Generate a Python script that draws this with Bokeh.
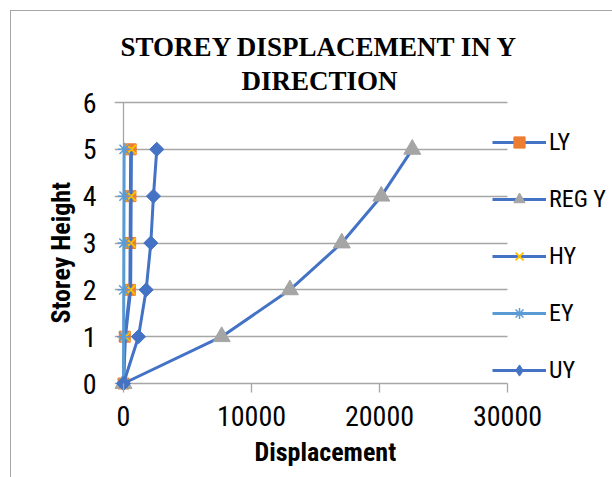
import math
from bokeh.plotting import figure
from bokeh.models import Range1d, Legend, LegendItem, Label, Title, FixedTicker
from bokeh.embed import file_html
from bokeh.resources import INLINE

# ---- data ----
storeys = [0, 1, 2, 3, 4, 5]
ly = [0, 100, 500, 520, 540, 560]
reg_y = [0, 7670, 13000, 17050, 20140, 22560]
hy = [0, 150, 560, 580, 600, 620]
ey = [0, 10, 20, 30, 40, 50]
uy = [0, 1170, 1770, 2135, 2340, 2600]
series_names = ["LY", "REG Y", "HY", "EY", "UY"]
x_ticks = [0, 10000, 20000, 30000]
y_ticks = [0, 1, 2, 3, 4, 5, 6]
title_lines = "STOREY DISPLACEMENT IN Y\nDIRECTION"
x_title = "Displacement"
y_title = "Storey Height"

NARROW = "Liberation Sans Narrow, Arial Narrow, Roboto Condensed, Roboto, sans-serif"
BLUE = "#4472C4"
LBLUE = "#5B9BD5"
ORANGE = "#ED7D31"
GRAY = "#A5A5A5"
YELLOW = "#FFC000"
GRID = "#A6A6A6"

X0, X1 = -703, 38203
Y0, Y1 = -0.192, 8.178

p = figure(width=612, height=477, output_backend="svg", toolbar_location=None,
           x_range=Range1d(X0, X1), y_range=Range1d(Y0, Y1),
           min_border_left=114, min_border_right=0,
           min_border_top=0, min_border_bottom=85)
try:
    p.title = None
except Exception:
    p.title.text = ""
p.outline_line_color = None
p.background_fill_color = None
p.border_fill_color = None
# chart-area border (left and top edges visible in the reference)
p.styles = {
    "background": "linear-gradient(#A6A6A6, #A6A6A6) 10px 10px / 1px calc(100% - 10px) no-repeat, "
                  "linear-gradient(#A6A6A6, #A6A6A6) 10px 10px / calc(100% - 10px) 1px no-repeat, "
                  "#FFFFFF",
}

# axes
p.xaxis.ticker = FixedTicker(ticks=x_ticks)
p.yaxis.ticker = FixedTicker(ticks=y_ticks)
for ax in (p.xaxis, p.yaxis):
    ax.axis_line_color = None
    ax.minor_tick_line_color = None
    ax.major_label_text_font = NARROW
    ax.major_label_text_font_size = "28px"
    ax.major_label_text_color = "black"
p.xaxis.major_tick_line_color = GRID
p.xaxis.major_tick_line_width = 1.3
p.xaxis.major_tick_in = 9
p.xaxis.major_tick_out = 0
p.xaxis.major_label_standoff = 13
p.yaxis.major_tick_line_color = None
p.yaxis.major_label_standoff = 12

p.xgrid.grid_line_color = None
p.ygrid.ticker = FixedTicker(ticks=y_ticks)
p.ygrid.grid_line_color = GRID
p.ygrid.grid_line_width = 1.3
try:
    p.ygrid.cross_bounds = (X0, x_ticks[-1])
except Exception:
    p.ygrid.grid_line_color = None
    p.segment(x0=[X0] * len(y_ticks), y0=y_ticks, x1=[x_ticks[-1]] * len(y_ticks),
              y1=y_ticks, line_color=GRID, line_width=1.3)

# vertical axis line
p.segment(x0=[x_ticks[0]], y0=[y_ticks[0]], x1=[x_ticks[0]], y1=[y_ticks[-1]],
          line_color=GRID, line_width=1.3)

# series
specs = [
    (ly, BLUE, dict(marker="square", size=11, fill_color=ORANGE, line_color=ORANGE)),
    (reg_y, BLUE, dict(marker="triangle", size=17, fill_color=GRAY, line_color=GRAY)),
    (hy, BLUE, dict(marker="x", size=13, line_color=YELLOW, line_width=1.8)),
    (ey, LBLUE, dict(marker="asterisk", size=13, line_color=LBLUE, line_width=1.5)),
    (uy, BLUE, dict(marker="square", size=10, angle=math.pi / 4,
                    fill_color=BLUE, line_color=BLUE)),
]
items = []
for name, (xs, lc, mk) in zip(series_names, specs):
    r_line = p.line(xs, storeys, line_color=lc, line_width=3)
    r_mark = p.scatter(xs, storeys, **mk)
    if mk.get("angle"):
        # legend shows an upright diamond (legend glyphs ignore marker angle)
        r_key = p.scatter(xs, storeys, marker="diamond", size=16,
                          fill_color=BLUE, line_color=BLUE, visible=False)
        items.append(LegendItem(label=name, renderers=[r_line, r_key]))
    else:
        items.append(LegendItem(label=name, renderers=[r_line, r_mark]))

legend = Legend(items=items, location=(378, 8), orientation="vertical",
                glyph_width=54, glyph_height=28, label_height=28, spacing=29,
                label_standoff=3, padding=0, margin=0,
                label_text_font=NARROW, label_text_font_size="24px",
                label_text_color="black",
                background_fill_alpha=0, border_line_color=None)
p.add_layout(legend, "center")

# chart title
p.add_layout(Label(x=15312, y=7.50, text=title_lines, text_font="Liberation Serif",
                   text_font_style="bold", text_font_size="27px",
                   text_align="center", text_baseline="top", text_line_height=1.12,
                   text_color="black"))

# axis titles
p.add_layout(Title(text=y_title, align="left", offset=69, vertical_align="bottom",
                   standoff=8, text_font=NARROW, text_font_style="bold",
                   text_font_size="26px", text_color="black"), "left")
p.add_layout(Title(text=x_title, align="left", offset=140, vertical_align="top",
                   standoff=16, text_font=NARROW, text_font_style="bold",
                   text_font_size="26px", text_color="black"), "below")

open("out.html", "w").write(file_html(p, INLINE))
